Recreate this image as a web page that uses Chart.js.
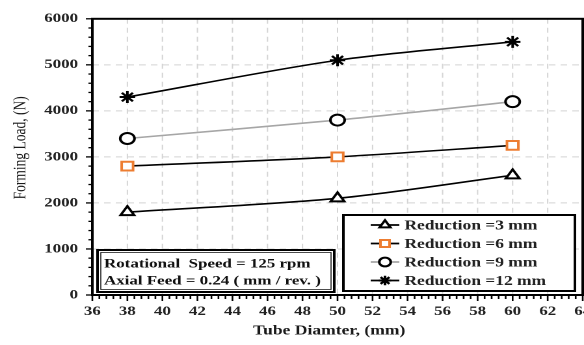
<!DOCTYPE html>
<html><head><meta charset="utf-8">
<script src="https://cdn.jsdelivr.net/npm/chart.js@4.4.1/dist/chart.umd.min.js"></script>
<style>html,body{margin:0;padding:0;background:#fff;overflow:hidden}#wrap{width:584px;height:345px;position:relative}
#c{width:584px !important;height:345px !important;display:block}</style>
</head><body><div id="wrap"><canvas id="c" width="449" height="345"></canvas></div>
<script>
const diameters = [38, 50, 60];
const red3 = [1800, 2100, 2600];
const red6 = [2800, 3000, 3250];
const red9 = [3400, 3800, 4200];
const red12 = [4300, 5100, 5500];
const seriesNames = ['Reduction =3 mm', 'Reduction =6 mm', 'Reduction =9 mm', 'Reduction =12 mm'];
const noteLines = ['Rotational  Speed = 125 rpm', 'Axial Feed = 0.24 ( mm / rev. )'];
const xTitle = 'Tube Diamter, (mm)';
const yTitle = 'Forming Load, (N)';

const FONT = "'Liberation Serif','Times New Roman',serif";
const pts = arr => diameters.map((d, i) => ({x: d, y: arr[i]}));
const styles = [
  {style: 'triangle', line: '#000', pb: '#000', r: 6},
  {style: 'rect', line: '#000', pb: '#ED7D31', r: 6.2},
  {style: 'circle', line: '#A6A6A6', pb: '#000', r: 5.5},
  {style: 'star', line: '#000', pb: '#000', r: 6}
];
const data = [red3, red6, red9, red12];
const datasets = data.map((arr, i) => ({
  label: seriesNames[i],
  data: pts(arr),
  showLine: true,
  tension: 0.3,
  borderColor: styles[i].line,
  borderWidth: 1.6,
  pointStyle: styles[i].style,
  pointRadius: styles[i].r,
  pointBorderColor: styles[i].pb,
  pointBackgroundColor: '#fff',
  pointBorderWidth: 2
}));

const deco = {
  id: 'deco',
  beforeDatasetsDraw(chart) {
    const ctx = chart.ctx, a = chart.chartArea, xs = chart.scales.x, ys = chart.scales.y;
    ctx.save();
    ctx.strokeStyle = '#D4D4D4'; ctx.lineWidth = 1; ctx.setLineDash([5, 4]);
    xs.ticks.forEach(t => {
      const x = xs.getPixelForValue(t.value);
      ctx.beginPath(); ctx.moveTo(x, a.top); ctx.lineTo(x, a.bottom); ctx.stroke();
    });
    ys.ticks.forEach(t => {
      const y = ys.getPixelForValue(t.value);
      ctx.beginPath(); ctx.moveTo(a.left, y); ctx.lineTo(a.right, y); ctx.stroke();
    });
    ctx.restore();
  },
  afterDraw(chart) {
    const ctx = chart.ctx, a = chart.chartArea, xs = chart.scales.x, ys = chart.scales.y;
    ctx.save();
    // frame
    ctx.strokeStyle = '#000'; ctx.lineWidth = 2;
    ctx.strokeRect(a.left, a.top, a.right - a.left, a.bottom - a.top);
    // minor ticks
    ctx.lineWidth = 1.3;
    for (let v = 0; v <= 6000; v += 200) {
      const y = ys.getPixelForValue(v);
      const len = v % 1000 === 0 ? 5 : 3;
      ctx.beginPath(); ctx.moveTo(a.left - len, y); ctx.lineTo(a.left, y); ctx.stroke();
    }
    for (let k = 0; k <= 70; k++) {
      const v = 36 + k * 0.4;
      const x = xs.getPixelForValue(v);
      const len = k % 5 === 0 ? 6 : 4;
      ctx.beginPath(); ctx.moveTo(x, a.bottom); ctx.lineTo(x, a.bottom + len); ctx.stroke();
    }
    // axis titles
    ctx.fillStyle = '#1a1a1a'; ctx.textAlign = 'center'; ctx.textBaseline = 'middle';
    ctx.font = 'bold 13.5px ' + FONT;
    ctx.fillText(xTitle, a.left + 182, a.bottom + 36);
    ctx.save();
    ctx.translate(16, a.top + 129);
    ctx.rotate(-Math.PI / 2);
    ctx.font = '13.5px ' + FONT;
    ctx.fillText(yTitle, 0, 0);
    ctx.restore();
    ctx.textAlign = 'left';
    // note box
    const nx = a.left + 4, ny = a.bottom - 45, nw = 182, nh = 42;
    ctx.fillStyle = '#fff'; ctx.fillRect(nx, ny, nw, nh);
    ctx.strokeStyle = '#000';
    ctx.lineWidth = 2; ctx.strokeRect(nx, ny, nw, nh);
    ctx.lineWidth = 0.7; ctx.strokeRect(nx + 2.5, ny + 2.5, nw - 5, nh - 5);
    ctx.fillStyle = '#111'; ctx.font = 'bold 13px ' + FONT; ctx.textBaseline = 'middle';
    ctx.fillText(noteLines[0], nx + 5, ny + 14);
    ctx.fillText(noteLines[1], nx + 5, ny + 31);
    // legend box
    const lx = a.left + 193, ly = a.bottom - 80, lw = 178, lh = 76;
    ctx.fillStyle = '#fff'; ctx.fillRect(lx, ly, lw, lh);
    ctx.strokeStyle = '#000'; ctx.lineWidth = 2; ctx.strokeRect(lx, ly, lw, lh);
    chart.data.datasets.forEach((ds, i) => {
      const yy = ly + 10 + i * 18.5;
      const cx = lx + 32;
      ctx.strokeStyle = ds.borderColor; ctx.lineWidth = 1.8;
      ctx.beginPath(); ctx.moveTo(cx - 11, yy); ctx.lineTo(cx + 11, yy); ctx.stroke();
      ctx.fillStyle = '#fff'; ctx.strokeStyle = ds.pointBorderColor; ctx.lineWidth = 2;
      Chart.helpers.drawPoint(ctx, {pointStyle: ds.pointStyle, radius: ds.pointRadius * 0.8, borderWidth: 2, rotation: 0}, cx, yy);
      ctx.fillStyle = '#222'; ctx.font = 'bold 13.4px ' + FONT; ctx.textBaseline = 'middle';
      ctx.fillText(ds.label, cx + 15, yy + 1);
    });
    ctx.restore();
  }
};

new Chart(document.getElementById('c'), {
  type: 'scatter',
  data: {datasets},
  options: {
    responsive: false, animation: false, devicePixelRatio: 2,
    layout: {autoPadding: false, padding: {top: 15, right: 1, left: 0, bottom: 0}},
    plugins: {legend: {display: false}, tooltip: {enabled: false}},
    scales: {
      x: {
        type: 'linear', min: 36, max: 64,
        ticks: {stepSize: 2, color: '#222', font: {family: FONT, size: 13, weight: 'bold'}, padding: 9, maxRotation: 0},
        grid: {display: false, drawTicks: false},
        border: {display: true, color: '#000', width: 2},
        title: {display: false},
        afterFit(s) { s.height = 50; s.paddingLeft = 0; s.paddingRight = 0; }
      },
      y: {
        min: 0, max: 6000,
        ticks: {stepSize: 1000, color: '#222', font: {family: FONT, size: 13, weight: 'bold'}, padding: 11, callback: v => String(v)},
        grid: {display: false, drawTicks: false},
        border: {display: true, color: '#000', width: 2},
        title: {display: false},
        afterFit(s) { s.width = 71; }
      }
    }
  },
  plugins: [deco]
});
</script></body></html>
